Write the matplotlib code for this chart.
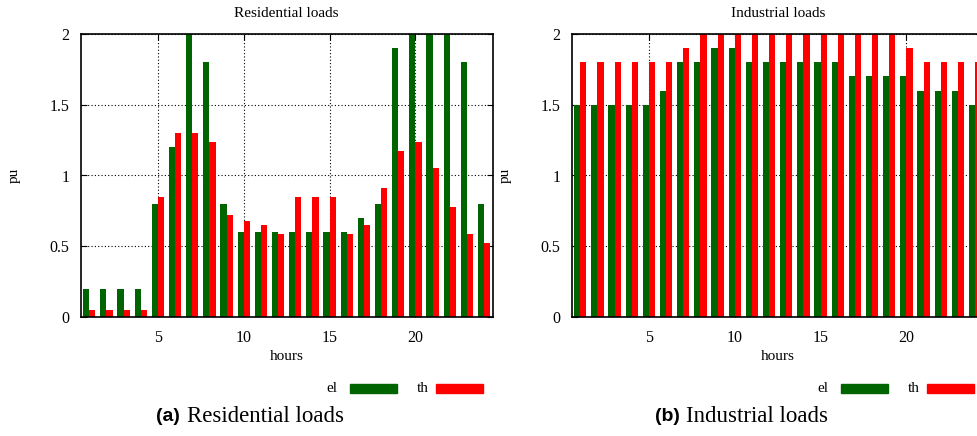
import matplotlib.pyplot as plt
import numpy as np

hours = list(range(1, 25))

res_el = [0.2, 0.2, 0.2, 0.2, 0.8, 1.2, 2.0, 1.8, 0.8, 0.6, 0.6, 0.6,
          0.6, 0.6, 0.6, 0.6, 0.7, 0.8, 1.9, 2.0, 2.0, 2.0, 1.8, 0.8]
res_th = [0.05, 0.05, 0.05, 0.05, 0.85, 1.3, 1.3, 1.24, 0.72, 0.68, 0.65, 0.59,
          0.85, 0.85, 0.85, 0.59, 0.65, 0.91, 1.17, 1.24, 1.05, 0.78, 0.59, 0.52]

ind_el = [1.5, 1.5, 1.5, 1.5, 1.5, 1.6, 1.8, 1.8, 1.9, 1.9, 1.8, 1.8,
          1.8, 1.8, 1.8, 1.8, 1.7, 1.7, 1.7, 1.7, 1.6, 1.6, 1.6, 1.5]
ind_th = [1.8, 1.8, 1.8, 1.8, 1.8, 1.8, 1.9, 2.0, 2.0, 2.0, 2.0, 2.0,
          2.0, 2.0, 2.0, 2.0, 2.0, 2.0, 2.0, 1.9, 1.8, 1.8, 1.8, 1.8]

panels = [("Residential loads", "(a)", res_el, res_th),
          ("Industrial loads", "(b)", ind_el, ind_th)]

green = "#006400"
red = "#ff0000"
serif = "Liberation Serif"

fig = plt.figure(figsize=(9.78, 4.36), dpi=100)

lefts = [80.7 / 978, 571.7 / 978]
bw = 0.36
for i, (title, tag, el, th) in enumerate(panels):
    ax = fig.add_axes([lefts[i], 119 / 436, 412 / 978, 283 / 436])
    x = np.array(hours)
    ax.bar(x - bw, el, width=bw, align="edge", color=green, linewidth=0, zorder=3)
    ax.bar(x, th, width=bw, align="edge", color=red, linewidth=0, zorder=3)
    ax.set_xlim(0.5, 24.5)
    ax.set_ylim(0, 2)
    ax.set_xticks([5, 10, 15, 20])
    ax.set_yticks([0, 0.5, 1, 1.5, 2])
    ax.set_yticklabels(["0", "0.5", "1", "1.5", "2"])
    ax.grid(True, color="black", linestyle=(0, (1, 2)), linewidth=0.8, zorder=1)
    ax.tick_params(direction="in", length=4, top=True, right=True,
                   labelsize=11.5)
    ax.tick_params(axis="x", pad=9)
    ax.tick_params(axis="y", pad=8)
    for lab in ax.get_xticklabels() + ax.get_yticklabels():
        lab.set_fontfamily(serif)
    for sp in ax.spines.values():
        sp.set_linewidth(1.2)
        sp.set_zorder(5)
    ax.set_title(title, fontfamily=serif, fontsize=11, pad=12)
    ax.set_xlabel("hours", fontfamily=serif, fontsize=11)
    ax.set_ylabel("pu", fontfamily=serif, fontsize=11)
    ax.xaxis.set_label_coords(0.5, -0.14)
    ax.yaxis.set_label_coords(-0.162, 0.5)
    ax.xaxis.label.set_va("center")
    ax.yaxis.label.set_va("center")

    # legend drawn as a row: label then colour box
    x0 = lefts[i] * 978
    fig.text((x0 + 257) / 978, 1 - 388 / 436, "el", fontfamily=serif,
             fontsize=11, ha="right", va="center")
    fig.patches.append(plt.Rectangle(((x0 + 269) / 978, 1 - 393 / 436), 47 / 978, 9 / 436,
                                     transform=fig.transFigure, color=green))
    fig.text((x0 + 348) / 978, 1 - 388 / 436, "th", fontfamily=serif,
             fontsize=11, ha="right", va="center")
    fig.patches.append(plt.Rectangle(((x0 + 355) / 978, 1 - 393 / 436), 47 / 978, 9 / 436,
                                     transform=fig.transFigure, color=red))

    # caption
    cx = x0 + 75 if i == 0 else x0 + 83
    fig.text(cx / 978, 1 - 416 / 436, tag, fontfamily="Liberation Sans",
             fontweight="bold", fontsize=14, ha="left", va="center")
    fig.text((cx + 31) / 978, 1 - 416 / 436, title, fontfamily=serif,
             fontsize=16.5, ha="left", va="center")

fig.savefig("out.png", dpi=100)
